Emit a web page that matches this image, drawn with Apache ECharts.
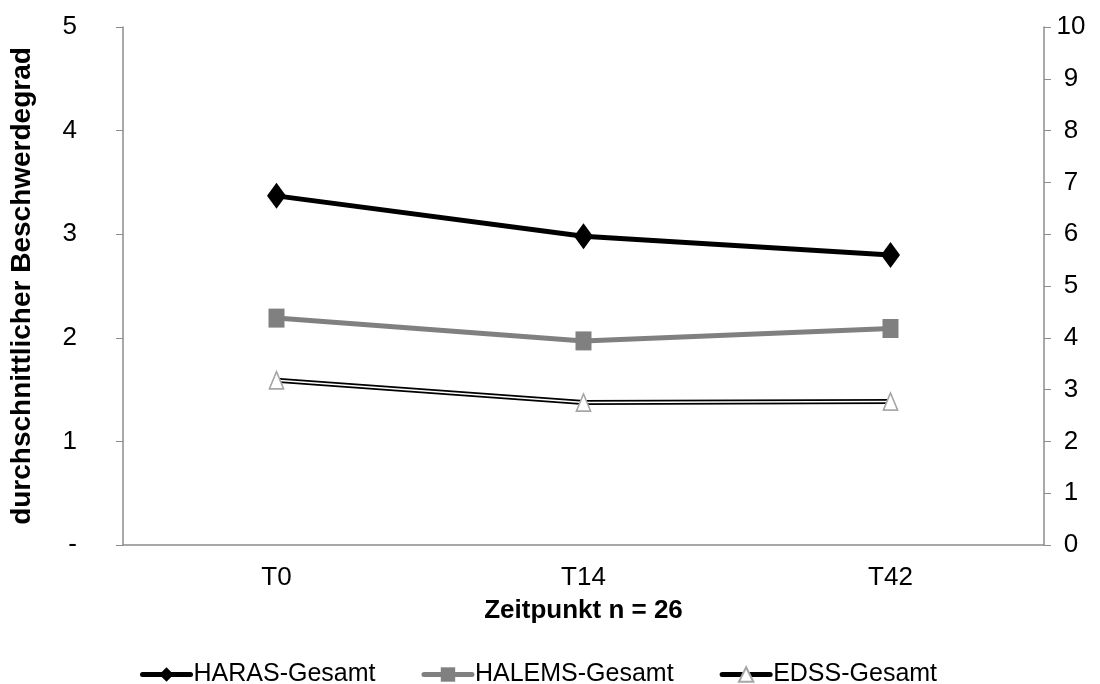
<!DOCTYPE html>
<html><head><meta charset="utf-8">
<script src="https://cdn.jsdelivr.net/npm/echarts@6/dist/echarts.min.js"></script>
<style>html,body{margin:0;padding:0;background:#fff}#c{width:1100px;height:684px}</style>
</head><body><div id="c"></div>
<script>
const categories = ['T0', 'T14', 'T42'];
const haras = [3.37, 2.98, 2.80];
const halems = [2.19, 1.97, 2.09];
const edss = [3.18, 2.75, 2.77];
const leftTicks = ['-', '1', '2', '3', '4', '5'];

const chart = echarts.init(document.getElementById('c'));
const font = 'Liberation Sans, Arial, sans-serif';
const axisLine = {show: true, lineStyle: {color: '#8c8c8c', width: 1.5}};
chart.setOption({
  animation: false,
  grid: {left: 121, right: 56, top: 27, bottom: 139},
  legend: {
    top: 657, left: 135, itemWidth: 48, itemHeight: 18, itemGap: 46,
    textStyle: {fontFamily: font, fontSize: 25, color: '#000', padding: [0,0,0,-2]},
    lineStyle: {width: 5, cap: 'round'},
    data: ['HARAS-Gesamt', 'HALEMS-Gesamt', 'EDSS-Gesamt']
  },
  xAxis: {
    type: 'category', data: categories, boundaryGap: true,
    axisLine: axisLine, axisTick: {show: false},
    axisLabel: {fontFamily: font, fontSize: 26, color: '#000', margin: 20},
    name: 'Zeitpunkt n = 26', nameLocation: 'middle', nameGap: 53,
    nameTextStyle: {fontFamily: font, fontSize: 26, fontWeight: 'bold', color: '#000'}
  },
  yAxis: [{
    type: 'value', min: 0, max: 5, interval: 1,
    axisLine: axisLine, axisTick: {show: true, length: 7, lineStyle: {color: '#8c8c8c'}},
    splitLine: {show: false},
    axisLabel: {fontFamily: font, fontSize: 26, color: '#000', margin: 46,
      formatter: v => leftTicks[Math.round(v)]},
    name: 'durchschnittlicher Beschwerdegrad', nameLocation: 'middle', nameGap: 87,
    nameTextStyle: {fontFamily: font, fontSize: 28, fontWeight: 'bold', color: '#000'}
  }, {
    type: 'value', min: 0, max: 10, interval: 1, position: 'right',
    axisLine: axisLine, axisTick: {show: true, length: 7, lineStyle: {color: '#8c8c8c'}},
    splitLine: {show: false},
    axisLabel: {fontFamily: font, fontSize: 26, color: '#000', margin: 27, align: 'center'}
  }],
  series: [
    {name: 'HARAS-Gesamt', type: 'line', data: haras, yAxisIndex: 0,
     symbol: 'diamond', symbolSize: [19, 26],
     lineStyle: {color: '#000', width: 5}, itemStyle: {color: '#000'}},
    {name: 'HALEMS-Gesamt', type: 'line', data: halems, yAxisIndex: 0,
     symbol: 'rect', symbolSize: [16, 19],
     lineStyle: {color: '#808080', width: 5}, itemStyle: {color: '#808080'}},
    {name: 'EDSS-Gesamt', type: 'line', data: edss, yAxisIndex: 1,
     symbol: 'triangle', symbolSize: [14, 17], z: 2,
     lineStyle: {color: '#000', width: 5},
     itemStyle: {color: '#fff', borderColor: '#a6a6a6', borderWidth: 1.5}},
    {name: 'EDSS-inner', type: 'line', data: edss, yAxisIndex: 1,
     symbol: 'triangle', symbolSize: [14, 17], z: 3,
     lineStyle: {color: '#fff', width: 1.6},
     itemStyle: {color: '#fff', borderColor: '#a6a6a6', borderWidth: 1.5}}
  ]
});
</script></body></html>
